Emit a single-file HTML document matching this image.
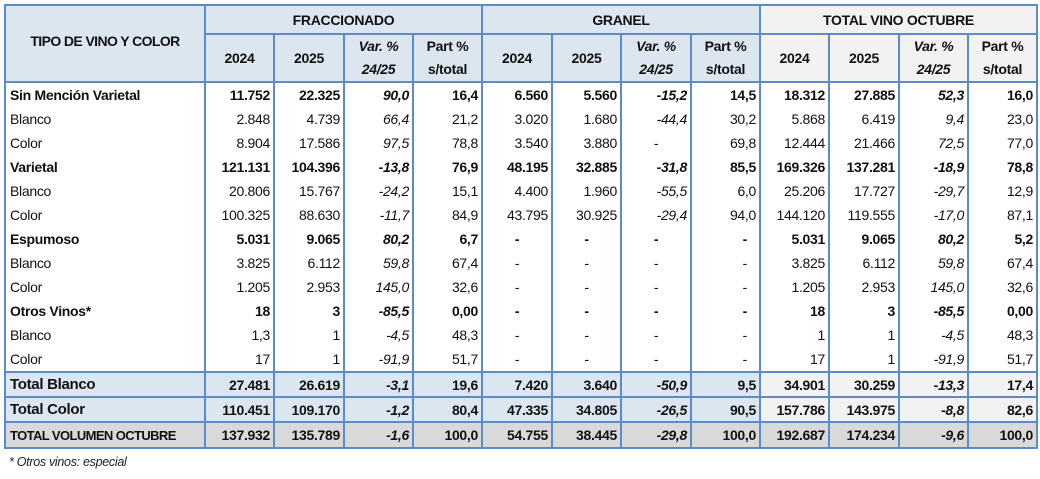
<!DOCTYPE html>
<html><head><meta charset="utf-8"><style>
body{margin:0;background:#fff;width:1040px;height:479px;overflow:hidden;font-family:"Liberation Sans",Arial,sans-serif;color:#111}
table{position:absolute;left:4px;top:4px;border-collapse:collapse;table-layout:fixed;font-size:14px}
td{border-left:2px solid #5b8bc9;border-right:2px solid #5b8bc9;padding:0 3px;text-align:right;white-space:nowrap;overflow:hidden;letter-spacing:-0.3px}
td.l{text-align:left;padding-left:4px}
.h td{background:#dce6f1;font-weight:bold;text-align:center;border:2px solid #5b8bc9;font-size:14px}
.h td.t{background:#f2f2f2}
.d td{height:24px}
.b{font-weight:bold}
i{font-style:italic}
.c{text-align:center}
tr.first td{border-top:2px solid #5b8bc9}
.tb td{background:#dce6f1;font-weight:bold;border:2px solid #5b8bc9;height:23px;font-size:14px}
.tb td.t{background:#f2f2f2}
.tv td{background:#d9d9d9;font-weight:bold;border:2px solid #5b8bc9;height:24px;font-size:14px}
.tb td.l{font-size:15px}
.tv td.l{font-size:13px;letter-spacing:-0.6px}
tr.last td{border-bottom:2px solid #5b8bc9}
.foot{position:absolute;left:9px;top:455px;font-size:12.5px;font-style:italic;color:#222;letter-spacing:-0.3px}
</style></head><body>
<table>
<colgroup><col style="width:200px"><col style="width:69px"><col style="width:70px"><col style="width:69px"><col style="width:69px"><col style="width:70px"><col style="width:69px"><col style="width:70px"><col style="width:69px"><col style="width:69px"><col style="width:70px"><col style="width:69px"><col style="width:69px"></colgroup>
<tr class="h" style="height:29px"><td rowspan="2" style="font-size:14px;vertical-align:top;padding-top:27px;letter-spacing:-0.6px">TIPO DE VINO Y COLOR</td><td colspan="4">FRACCIONADO</td><td colspan="4">GRANEL</td><td colspan="4" class="t">TOTAL VINO OCTUBRE</td></tr>
<tr class="h" style="height:48px;line-height:23px"><td>2024</td><td>2025</td><td><i>Var. %<br>24/25</i></td><td>Part %<br>s/total</td><td>2024</td><td>2025</td><td><i>Var. %<br>24/25</i></td><td>Part %<br>s/total</td><td class="t">2024</td><td class="t">2025</td><td class="t"><i>Var. %<br>24/25</i></td><td class="t">Part %<br>s/total</td></tr>
<tr class="d b first"><td class="l">Sin Mención Varietal</td><td>11.752</td><td>22.325</td><td><i>90,0</i></td><td>16,4</td><td>6.560</td><td>5.560</td><td><i>-15,2</i></td><td>14,5</td><td>18.312</td><td>27.885</td><td><i>52,3</i></td><td>16,0</td></tr>
<tr class="d"><td class="l">Blanco</td><td>2.848</td><td>4.739</td><td><i>66,4</i></td><td>21,2</td><td>3.020</td><td>1.680</td><td><i>-44,4</i></td><td>30,2</td><td>5.868</td><td>6.419</td><td><i>9,4</i></td><td>23,0</td></tr>
<tr class="d"><td class="l">Color</td><td>8.904</td><td>17.586</td><td><i>97,5</i></td><td>78,8</td><td>3.540</td><td>3.880</td><td class="c">-</td><td>69,8</td><td>12.444</td><td>21.466</td><td><i>72,5</i></td><td>77,0</td></tr>
<tr class="d b"><td class="l">Varietal</td><td>121.131</td><td>104.396</td><td><i>-13,8</i></td><td>76,9</td><td>48.195</td><td>32.885</td><td><i>-31,8</i></td><td>85,5</td><td>169.326</td><td>137.281</td><td><i>-18,9</i></td><td>78,8</td></tr>
<tr class="d"><td class="l">Blanco</td><td>20.806</td><td>15.767</td><td><i>-24,2</i></td><td>15,1</td><td>4.400</td><td>1.960</td><td><i>-55,5</i></td><td>6,0</td><td>25.206</td><td>17.727</td><td><i>-29,7</i></td><td>12,9</td></tr>
<tr class="d"><td class="l">Color</td><td>100.325</td><td>88.630</td><td><i>-11,7</i></td><td>84,9</td><td>43.795</td><td>30.925</td><td><i>-29,4</i></td><td>94,0</td><td>144.120</td><td>119.555</td><td><i>-17,0</i></td><td>87,1</td></tr>
<tr class="d b"><td class="l">Espumoso</td><td>5.031</td><td>9.065</td><td><i>80,2</i></td><td>6,7</td><td class="c">-</td><td class="c">-</td><td class="c">-</td><td style="padding-right:12px">-</td><td>5.031</td><td>9.065</td><td><i>80,2</i></td><td>5,2</td></tr>
<tr class="d"><td class="l">Blanco</td><td>3.825</td><td>6.112</td><td><i>59,8</i></td><td>67,4</td><td class="c">-</td><td class="c">-</td><td class="c">-</td><td style="padding-right:12px">-</td><td>3.825</td><td>6.112</td><td><i>59,8</i></td><td>67,4</td></tr>
<tr class="d"><td class="l">Color</td><td>1.205</td><td>2.953</td><td><i>145,0</i></td><td>32,6</td><td class="c">-</td><td class="c">-</td><td class="c">-</td><td style="padding-right:12px">-</td><td>1.205</td><td>2.953</td><td><i>145,0</i></td><td>32,6</td></tr>
<tr class="d b"><td class="l">Otros Vinos*</td><td>18</td><td>3</td><td><i>-85,5</i></td><td>0,00</td><td class="c">-</td><td class="c">-</td><td class="c">-</td><td style="padding-right:12px">-</td><td>18</td><td>3</td><td><i>-85,5</i></td><td>0,00</td></tr>
<tr class="d"><td class="l">Blanco</td><td>1,3</td><td>1</td><td><i>-4,5</i></td><td>48,3</td><td class="c">-</td><td class="c">-</td><td class="c">-</td><td style="padding-right:12px">-</td><td>1</td><td>1</td><td><i>-4,5</i></td><td>48,3</td></tr>
<tr class="d"><td class="l">Color</td><td>17</td><td>1</td><td><i>-91,9</i></td><td>51,7</td><td class="c">-</td><td class="c">-</td><td class="c">-</td><td style="padding-right:12px">-</td><td>17</td><td>1</td><td><i>-91,9</i></td><td>51,7</td></tr>
<tr class="tb"><td class="l">Total Blanco</td><td>27.481</td><td>26.619</td><td><i>-3,1</i></td><td>19,6</td><td>7.420</td><td>3.640</td><td><i>-50,9</i></td><td>9,5</td><td class="t">34.901</td><td class="t">30.259</td><td class="t"><i>-13,3</i></td><td class="t">17,4</td></tr>
<tr class="tb"><td class="l">Total Color</td><td>110.451</td><td>109.170</td><td><i>-1,2</i></td><td>80,4</td><td>47.335</td><td>34.805</td><td><i>-26,5</i></td><td>90,5</td><td class="t">157.786</td><td class="t">143.975</td><td class="t"><i>-8,8</i></td><td class="t">82,6</td></tr>
<tr class="tv last"><td class="l">TOTAL VOLUMEN OCTUBRE</td><td>137.932</td><td>135.789</td><td><i>-1,6</i></td><td>100,0</td><td>54.755</td><td>38.445</td><td><i>-29,8</i></td><td>100,0</td><td>192.687</td><td>174.234</td><td><i>-9,6</i></td><td>100,0</td></tr>
</table>
<div class="foot">* Otros vinos: especial</div>
</body></html>
